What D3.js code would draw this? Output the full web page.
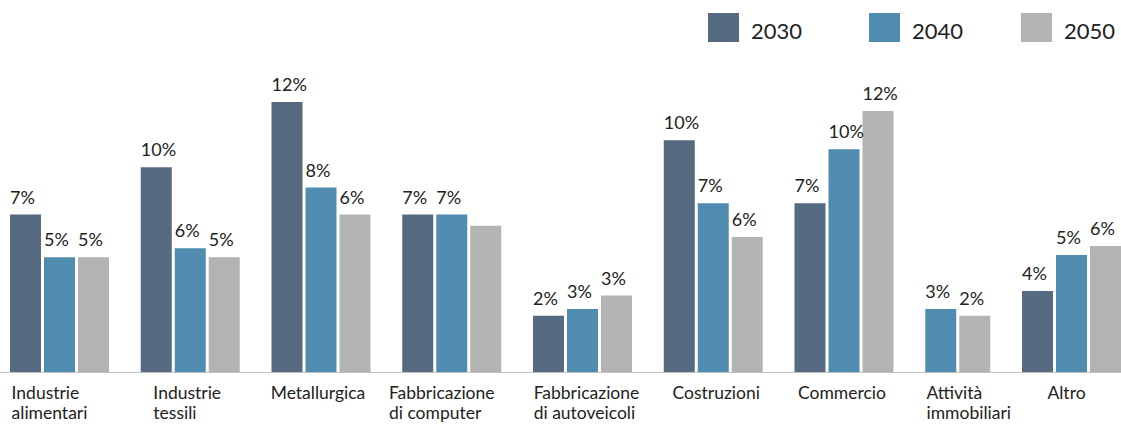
<!DOCTYPE html>
<html>
<head>
<meta charset="utf-8">
<script src="https://cdn.jsdelivr.net/npm/d3@7"></script>
<style>
	body { margin: 0; background: #fff; }
	svg { display: block; font-family: Lato, "Open Sans", sans-serif; }
	text { fill: #222; }
</style>
</head>
<body>
<svg id="chart" width="1121" height="424"></svg>
<script>
const categories = ["Industrie\nalimentari", "Industrie\ntessili", "Metallurgica", "Fabbricazione\ndi computer", "Fabbricazione\ndi autoveicoli", "Costruzioni", "Commercio", "Attività\nimmobiliari", "Altro"];
const years = ["2030", "2040", "2050"];
const v2030 = [7.0, 9.1, 12.0, 7.0, 2.5, 10.3, 7.5, null, 3.6];
const v2040 = [5.1, 5.5, 8.2, 7.0, 2.8, 7.5, 9.9, 2.8, 5.2];
const v2050 = [5.1, 5.1, 7.0, 6.5, 3.4, 6.0, 11.6, 2.5, 5.6];
const l2030 = ["7%", "10%", "12%", "7%", "2%", "10%", "7%", "", "4%"];
const l2040 = ["5%", "6%", "8%", "7%", "3%", "7%", "10%", "3%", "5%"];
const l2050 = ["5%", "5%", "6%", "", "3%", "6%", "12%", "2%", "6%"];

const Width = 1121;
const Height = 424;
const colors = ["#566a82", "#508cb0", "#b3b3b3"];
const groupGap = 0.846; // gap between groups, in bar slots
const barGap = 3;
// hand placed labels in the original sit a little off centre
const labelNudge = [-10, -3, -3, -10, 4, 3, -2, -6, -5];

const svg = d3.select("#chart");
const values = [v2030, v2040, v2050];
const labels = [l2030, l2040, l2050];

// lay bars out slot by slot, a missing value takes no slot
const bars = [];
const groups = [];
let slot = 0;
categories.forEach((c, i) => {
	const start = slot;
	years.forEach((y, s) => {
		if(values[s][i] == null) return;
		bars.push({cat: i, series: s, slot: slot, value: values[s][i], label: labels[s][i]});
		slot += 1;
	});
	groups.push({name: c, start: start, end: slot, i: i});
	slot += groupGap;
});
const totalSlots = slot - groupGap;

const x = d3.scaleLinear().domain([0, totalSlots]).range([10, Width + barGap]);
const y = d3.scaleLinear().domain([0, 12]).range([372, 102]);
const color = d3.scaleOrdinal().domain(years).range(colors);

// bars
svg.append("g").selectAll("rect").data(bars).enter().append("rect")
	.attr("x", d => x(d.slot))
	.attr("y", d => y(d.value))
	.attr("width", d => x(d.slot + 1) - x(d.slot) - barGap)
	.attr("height", d => y(0) - y(d.value))
	.attr("fill", d => color(years[d.series]));

// value labels sit left aligned over each bar
svg.append("g").selectAll("text").data(bars.filter(d => d.label)).enter().append("text")
	.attr("x", d => x(d.slot))
	.attr("y", d => y(d.value) - 11)
	.attr("font-size", 18)
	.text(d => d.label);

// baseline
svg.append("line")
	.attr("x1", 0).attr("x2", Width)
	.attr("y1", y(0) + 0.5).attr("y2", y(0) + 0.5)
	.attr("stroke", "#c4c4c4").attr("stroke-width", 1.2);

// category labels: one text per line, left aligned block centred under a three bar group
const cats = svg.append("g").selectAll("g").data(groups).enter().append("g");
cats.each(function(g) {
	const t = d3.select(this);
	const lines = g.name.split("\n");
	lines.forEach((line, k) => {
		t.append("text").attr("font-size", 17.5).attr("y", 398.5 + k * 20.5).text(line);
	});
	const w = d3.max(t.selectAll("text").nodes(), n => n.getComputedTextLength());
	const cx = (x(g.start) + x(g.start + 3) - barGap) / 2;
	t.selectAll("text").attr("x", cx - w / 2 + labelNudge[g.i]);
});

// legend
const legendX = d3.scaleOrdinal().domain(years).range([708, 869, 1021]);
const legend = svg.append("g").selectAll("g").data(years).enter().append("g")
	.attr("transform", d => `translate(${legendX(d)},13)`);
legend.append("rect").attr("width", 31).attr("height", 29).attr("fill", d => color(d));
legend.append("text").attr("x", 43).attr("y", 25.5).attr("font-size", 22).text(d => d);
</script>
</body>
</html>
